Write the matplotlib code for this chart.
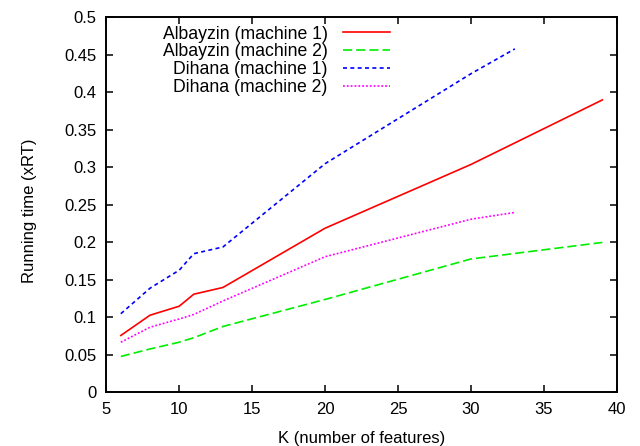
import matplotlib
matplotlib.use("Agg")
import matplotlib.pyplot as plt

plt.rcParams['font.family'] = ['Liberation Sans', 'DejaVu Sans']

# Albayzin runs
k_albayzin = [6, 8, 10, 11, 13, 20, 30, 39]
albayzin_m1 = [0.076, 0.103, 0.115, 0.131, 0.140, 0.219, 0.304, 0.390]
albayzin_m2 = [0.048, 0.058, 0.067, 0.073, 0.088, 0.124, 0.178, 0.200]

# Dihana runs
k_dihana = [6, 8, 10, 11, 13, 20, 30, 33]
dihana_m1 = [0.105, 0.139, 0.163, 0.185, 0.194, 0.305, 0.425, 0.458]
dihana_m2 = [0.067, 0.087, 0.098, 0.104, 0.122, 0.181, 0.231, 0.240]

xticks = [5, 10, 15, 20, 25, 30, 35, 40]
yticks = [0, 0.05, 0.1, 0.15, 0.2, 0.25, 0.3, 0.35, 0.4, 0.45, 0.5]
ytick_labels = ['0', '0.05', '0.1', '0.15', '0.2', '0.25', '0.3', '0.35', '0.4', '0.45', '0.5']

fig = plt.figure(figsize=(6.4, 4.46), dpi=100)
ax = fig.add_axes([0.166, 0.120, 0.798, 0.841])

lw = 1.2
ax.plot(k_albayzin, albayzin_m1, color='#ff0000', lw=lw, label='Albayzin (machine 1)')
ax.plot(k_albayzin, albayzin_m2, color='#00ee00', lw=lw, dashes=(5.5, 2.4), label='Albayzin (machine 2)')
ax.plot(k_dihana, dihana_m1, color='#0000ff', lw=lw, dashes=(2.4, 2.0), label='Dihana (machine 1)')
ax.plot(k_dihana, dihana_m2, color='#ff00ff', lw=lw, dashes=(1.1, 1.2), label='Dihana (machine 2)')

ax.set_xlim(5, 40)
ax.set_ylim(0, 0.5)
ax.set_xticks(xticks)
ax.set_yticks(yticks)
ax.set_yticklabels(ytick_labels)
ax.tick_params(direction='in', length=5, width=1.1, top=True, right=True,
               labelsize=12, pad=7)
for sp in ax.spines.values():
    sp.set_linewidth(1.4)

ax.set_xlabel('K (number of features)', fontsize=12, labelpad=10)
ax.set_ylabel('Running time (xRT)', fontsize=12)
ax.yaxis.set_label_coords(-0.136, 0.485)

ax.legend(loc='upper right', bbox_to_anchor=(0.556, 0.978), frameon=False,
          markerfirst=False, fontsize=12.7, handlelength=2.7, handletextpad=0.85,
          labelspacing=0.045, borderpad=0, borderaxespad=0)

fig.savefig('out.png', dpi=100)
